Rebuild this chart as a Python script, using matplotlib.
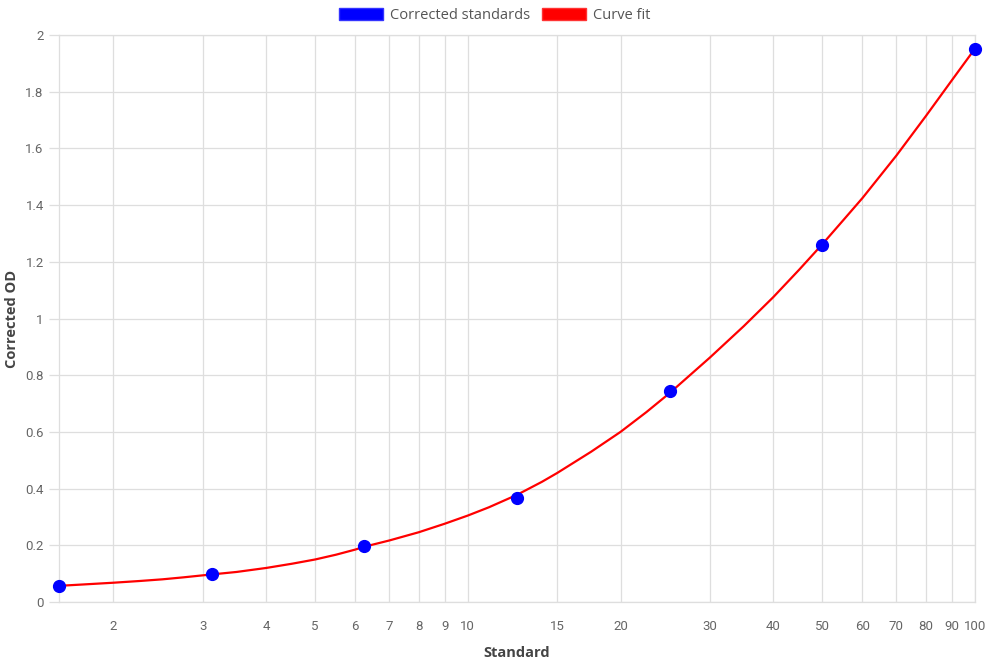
import numpy as np
import matplotlib.pyplot as plt
from matplotlib.patches import Patch
from matplotlib.ticker import FixedLocator, NullLocator, FuncFormatter

# corrected standards
std_x = [1.5625, 3.125, 6.25, 12.5, 25, 50, 100]
std_od = [0.055, 0.100, 0.199, 0.368, 0.745, 1.259, 1.952]

# curve fit, sampled along the drawn red line
fit_x = [1.5625, 1.75, 2, 2.25, 2.5, 2.75, 3, 3.5, 4, 4.5, 5, 5.5, 6, 6.25, 7, 8, 9, 10,
         11, 12.5, 14, 15, 17.5, 20, 22.5, 25, 30, 35, 40, 45, 50, 55, 60, 70, 80, 90, 100]
fit_y = [0.057, 0.062, 0.068, 0.074, 0.080, 0.087, 0.094, 0.106, 0.120, 0.135, 0.150,
         0.167, 0.185, 0.195, 0.217, 0.246, 0.276, 0.305, 0.334, 0.378, 0.424, 0.455,
         0.530, 0.600, 0.670, 0.737, 0.862, 0.973, 1.075, 1.172, 1.262, 1.347, 1.425,
         1.575, 1.714, 1.840, 1.952]

x_ticks = [2, 3, 4, 5, 6, 7, 8, 9, 10, 15, 20, 30, 40, 50, 60, 70, 80, 90, 100]
y_ticks = [0, 0.2, 0.4, 0.6, 0.8, 1.0, 1.2, 1.4, 1.6, 1.8, 2.0]

grid_col = "#dedede"
tick_col = "#666666"

fig = plt.figure(figsize=(9.9, 6.6), dpi=100)
ax = fig.add_axes([59 / 990, 1 - 602 / 660, (975 - 59) / 990, (602 - 35) / 660])

ax.plot(fit_x, fit_y, color="red", linewidth=1.6, zorder=3, clip_on=False,
        solid_joinstyle="round")
ax.plot(std_x, std_od, linestyle="none", marker="o", markersize=8.5,
        color="#0000ff", zorder=4, clip_on=False)

ax.set_xscale("log")
ax.set_xlim(1.5625, 100)
ax.set_ylim(0, 2)

ax.xaxis.set_major_locator(FixedLocator(x_ticks))
ax.xaxis.set_minor_locator(NullLocator())
ax.xaxis.set_major_formatter(FuncFormatter(lambda v, p: "%g" % v))
ax.yaxis.set_major_locator(FixedLocator(y_ticks))
ax.yaxis.set_major_formatter(FuncFormatter(lambda v, p: "%g" % v))

ax.grid(True, color=grid_col, linewidth=0.9)
ax.set_axisbelow(True)
for s in ax.spines.values():
    s.set_color(grid_col)
    s.set_linewidth(0.9)

ax.tick_params(axis="x", length=0, pad=13, labelsize=9.5, labelcolor=tick_col)
ax.tick_params(axis="y", length=7, width=0.9, color=grid_col, pad=4, labelsize=9.5,
               labelcolor=tick_col)
for lab in ax.get_xticklabels() + ax.get_yticklabels():
    lab.set_family("Roboto")

ax.set_xlabel("Standard", family="Open Sans", fontweight="bold", fontsize=10.5,
              color="#444444")
ax.set_ylabel("Corrected OD", family="Open Sans", fontweight="bold", fontsize=10.5,
              color="#444444")
ax.xaxis.set_label_coords(0.5, -0.078)
ax.yaxis.set_label_coords(-0.044, 0.5)

handles = [Patch(facecolor="#0000ff", edgecolor="#3333ff", label="Corrected standards"),
           Patch(facecolor="red", edgecolor="#ff3333", label="Curve fit")]
fig.legend(handles=handles, loc="upper center", bbox_to_anchor=(0.5, 1.008), ncol=2,
           frameon=False, handlelength=3.0, handleheight=0.85, handletextpad=0.5,
           columnspacing=0.8, prop={"family": "Open Sans", "size": 10.5},
           labelcolor="#555555")

fig.savefig("out.png", dpi=100, facecolor="white")
